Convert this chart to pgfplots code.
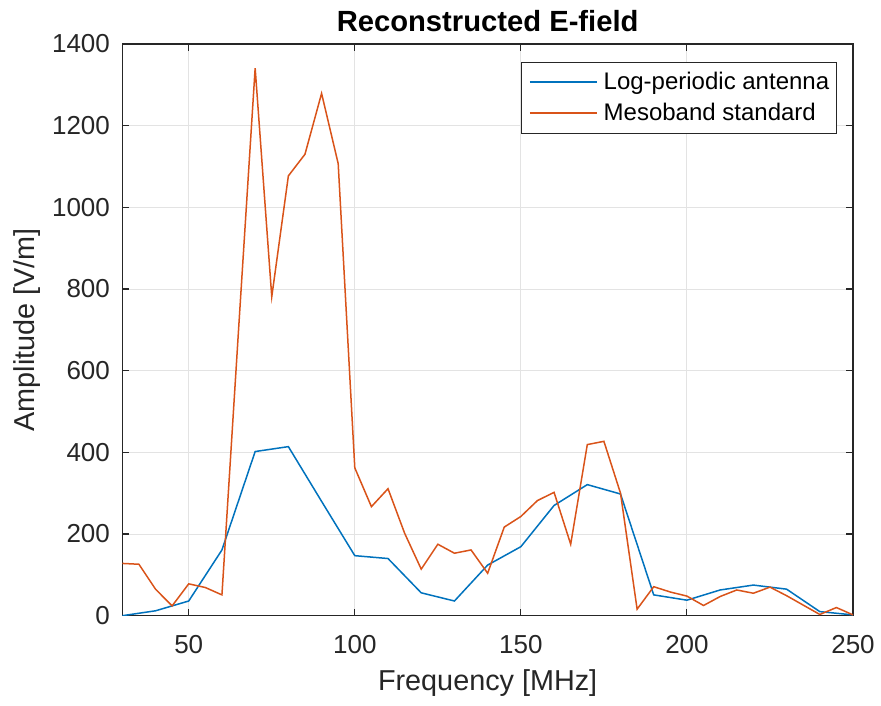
\documentclass[border=0pt]{standalone}
\usepackage{pgfplots}
\pgfplotsset{compat=1.18}
\usepackage{fontspec}
\setmainfont{Liberation Sans}
\definecolor{mblue}{rgb}{0,0.447,0.741}
\definecolor{morange}{rgb}{0.850,0.325,0.098}
\definecolor{axgray}{HTML}{262626}
\definecolor{gridgray}{HTML}{E3E3E3}
\begin{document}
\begin{tikzpicture}
\begin{axis}[
  scale only axis, width=365.35pt, height=285.85pt,
  xmin=30, xmax=250, ymin=0, ymax=1400,
  xtick={50,100,150,200,250}, ytick={0,200,400,600,800,1000,1200,1400},
  tick align=inside, xtick pos=both, ytick pos=both,
  major tick length=3.5pt,
  grid=major, major grid style={gridgray, line width=0.5pt},
  axis line style={axgray, line width=0.55pt},
  tick style={axgray, line width=0.55pt},
  ticklabel style={font=\fontsize{13}{15}\selectfont, text=axgray},
  /pgf/number format/assume math mode=true,
  /pgf/number format/1000 sep={},
  xticklabel style={anchor=north, inner sep=0pt, yshift=-9.5pt},
  yticklabel style={anchor=east, inner sep=0pt, xshift=-6pt},
  xlabel={Frequency [MHz]}, ylabel={Amplitude [V/m]},
  label style={font=\fontsize{14.4}{17}\selectfont, text=axgray},
  xlabel style={at={(axis description cs:0.5,0)}, anchor=base, yshift=-37.5pt},
  ylabel style={at={(axis description cs:-0.11948,0.5)}, anchor=base},
  title={Reconstructed E-field},
  title style={font=\fontsize{14.6}{17}\selectfont\bfseries, at={(axis description cs:0.5,1)}, anchor=base, yshift=0.15pt},
  every axis title shift=6pt,
  legend cell align=left,
  legend image code/.code={\draw[#1] (0pt,0pt) -- (33.5pt,0pt);},
  legend style={at={(axis description cs:1,1)}, anchor=north east, xshift=-7.85pt, yshift=-8.85pt,
    draw=axgray, line width=0.5pt, fill=white, inner xsep=3.8pt, inner ysep=2.25pt,
    font=\fontsize{12}{14}\selectfont, row sep=0pt, column sep=3pt,
    nodes={inner sep=0pt, text height=11.5pt, text depth=4pt}},
]
\addplot[mblue, line width=0.75pt] coordinates {
(30,0) (40,12) (50,36) (60,161) (70,402) (80,414) (90,280) (100,147)
(110,140) (120,56) (130,36) (140,124) (150,169) (160,270) (170,321)
(180,298) (190,51) (200,38) (210,63) (220,75) (230,65) (240,10) (250,2)
};
\addlegendentry{Log-periodic antenna}
\addplot[morange, line width=0.75pt] coordinates {
(30,128) (35,126) (40,65) (45,24) (50,78) (55,69) (60,51) (65,700)
(70,1341) (75,781) (80,1077) (85,1130) (90,1279) (95,1107) (100,362)
(105,267) (110,311) (115,202) (120,114) (125,175) (130,153) (135,161)
(140,104) (145,217) (150,243) (155,282) (160,302) (165,175) (170,419)
(175,427) (180,300) (185,16) (190,71) (195,58) (200,48) (205,25)
(210,47) (215,63) (220,55) (225,70) (230,49) (235,26) (240,3)
(245,20) (250,2)
};
\addlegendentry{Mesoband standard}
\end{axis}
\pgfresetboundingbox
\path (-61.15pt,-44.65pt) rectangle (379.35pt,307.85pt);
\end{tikzpicture}
\end{document}
